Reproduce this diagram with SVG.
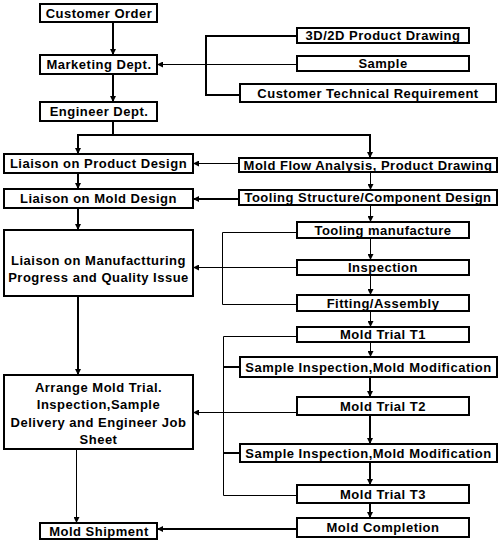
<svg xmlns="http://www.w3.org/2000/svg" width="500" height="544" viewBox="0 0 500 544">
<defs>
<marker id="ah" markerUnits="userSpaceOnUse" markerWidth="6" markerHeight="6" refX="5" refY="3" orient="auto">
<path d="M0,0 L6,3 L0,6 z" fill="#000"/>
</marker>
<style>
rect{fill:#fff;stroke:#000;stroke-width:2}
text{font-family:"Liberation Sans",Arial,sans-serif;font-weight:bold;font-size:13px;letter-spacing:0.5px;text-anchor:middle;fill:#000}
.c line,.c path,.c polyline{stroke:#000;fill:none}
.k{stroke-width:2}
.t{stroke-width:1}
.a{marker-end:url(#ah)}
</style>
</defs>
<rect x="0" y="0" width="500" height="544" style="stroke:none;fill:#fff"/>
<g class="c" id="connectors">
<line class="k a" x1="113" y1="22" x2="113" y2="54"/>
<line class="k a" x1="113" y1="74" x2="113" y2="101"/>
<line class="t a" x1="297" y1="64.5" x2="158" y2="64.5"/>
<polyline class="k" points="297,36 206,36 206,95 240,95"/>
<line class="k" x1="113" y1="121" x2="113" y2="135"/>
<line class="k" x1="77" y1="135" x2="371" y2="135"/>
<line class="k a" x1="78" y1="135" x2="78" y2="153"/>
<line class="k a" x1="370" y1="135" x2="370" y2="157"/>
<line class="t a" x1="239" y1="163.5" x2="194" y2="163.5"/>
<line class="k a" x1="239" y1="199" x2="194" y2="199"/>
<line class="k a" x1="78" y1="173" x2="78" y2="188"/>
<line class="k a" x1="78" y1="208" x2="78" y2="229"/>
<line class="t a" x1="370.5" y1="172" x2="370.5" y2="189"/>
<line class="t a" x1="370.5" y1="205" x2="370.5" y2="221"/>
<line class="t a" x1="370.5" y1="238" x2="370.5" y2="259"/>
<line class="t a" x1="370.5" y1="275" x2="370.5" y2="294"/>
<line class="t a" x1="370.5" y1="311" x2="370.5" y2="326"/>
<polyline class="t" points="297,232.5 222.5,232.5 222.5,304.5 297,304.5"/>
<line class="t a" x1="297" y1="267.5" x2="194" y2="267.5"/>
<line class="k a" x1="78" y1="296" x2="78" y2="374"/>
<line class="t a" x1="76.5" y1="449" x2="76.5" y2="522"/>
<polyline class="t" points="297,336.5 223.5,336.5 223.5,495.5 297,495.5"/>
<line class="k" x1="223" y1="367" x2="240" y2="367"/>
<line class="k" x1="223" y1="453" x2="240" y2="453"/>
<line class="t a" x1="297" y1="412.5" x2="194" y2="412.5"/>
<line class="t a" x1="370.5" y1="342" x2="370.5" y2="356"/>
<line class="k a" x1="370" y1="377" x2="370" y2="396"/>
<line class="k a" x1="370" y1="415" x2="370" y2="443"/>
<line class="k a" x1="370" y1="462" x2="370" y2="484"/>
<line class="k a" x1="370" y1="503" x2="370" y2="517"/>
<line class="k a" x1="297" y1="529" x2="158" y2="529"/>
</g>
<g id="customer-order"><rect x="40" y="4" width="117" height="18"/><text x="99" y="17.5">Customer Order</text></g>
<g id="marketing"><rect x="40" y="55" width="117" height="19"/><text x="99" y="69">Marketing Dept.</text></g>
<g id="engineer"><rect x="40" y="102" width="117" height="19"/><text x="99" y="116">Engineer Dept.</text></g>
<g id="drawing"><rect x="297" y="28" width="172" height="15"/><text x="383" y="40">3D/2D Product Drawing</text></g>
<g id="sample"><rect x="297" y="56" width="172" height="15"/><text x="383" y="68">Sample</text></g>
<g id="requirement"><rect x="240" y="84" width="256" height="18"/><text x="368" y="97.5">Customer Technical Requirement</text></g>
<g id="liaison-product"><rect x="4" y="154" width="189" height="19"/><text x="98.5" y="168">Liaison on Product Design</text></g>
<g id="liaison-mold"><rect x="4" y="189" width="189" height="19"/><text x="98.5" y="203">Liaison on Mold Design</text></g>
<g id="liaison-manuf"><rect x="4" y="230" width="189" height="66"/><text x="98.5" y="264.5">Liaison on Manufactturing</text><text x="98.5" y="281.5">Progress and Quality Issue</text></g>
<g id="mold-flow"><rect x="239" y="158" width="258" height="14"/><text x="368" y="169.5">Mold Flow Analysis, Product Drawing</text></g>
<g id="tooling-structure"><rect x="239" y="190" width="258" height="15"/><text x="368" y="202">Tooling Structure/Component Design</text></g>
<g id="tooling-manufacture"><rect x="297" y="222" width="172" height="16"/><text x="383" y="234.5">Tooling manufacture</text></g>
<g id="inspection"><rect x="297" y="260" width="172" height="15"/><text x="383" y="272">Inspection</text></g>
<g id="fitting"><rect x="297" y="295" width="172" height="16"/><text x="383" y="307.5">Fitting/Assembly</text></g>
<g id="trial-t1"><rect x="297" y="327" width="172" height="15"/><text x="383" y="339">Mold Trial T1</text></g>
<g id="sample-insp-1"><rect x="240" y="357" width="257" height="20"/><text x="368.5" y="371.5">Sample Inspection,Mold Modification</text></g>
<g id="trial-t2"><rect x="297" y="397" width="172" height="18"/><text x="383" y="410.5">Mold Trial T2</text></g>
<g id="sample-insp-2"><rect x="240" y="444" width="257" height="18"/><text x="368.5" y="457.5">Sample Inspection,Mold Modification</text></g>
<g id="trial-t3"><rect x="297" y="485" width="172" height="18"/><text x="383" y="498.5">Mold Trial T3</text></g>
<g id="completion"><rect x="297" y="518" width="172" height="19"/><text x="383" y="532">Mold Completion</text></g>
<g id="arrange"><rect x="4" y="375" width="189" height="74"/><text x="98.5" y="391.5">Arrange Mold Trial.</text><text x="98.5" y="408.5">Inspection,Sample</text><text x="98.5" y="426.5">Delivery and Engineer Job</text><text x="98.5" y="443.5">Sheet</text></g>
<g id="shipment"><rect x="40" y="523" width="117" height="16"/><text x="99" y="535.5">Mold Shipment</text></g>
</svg>
